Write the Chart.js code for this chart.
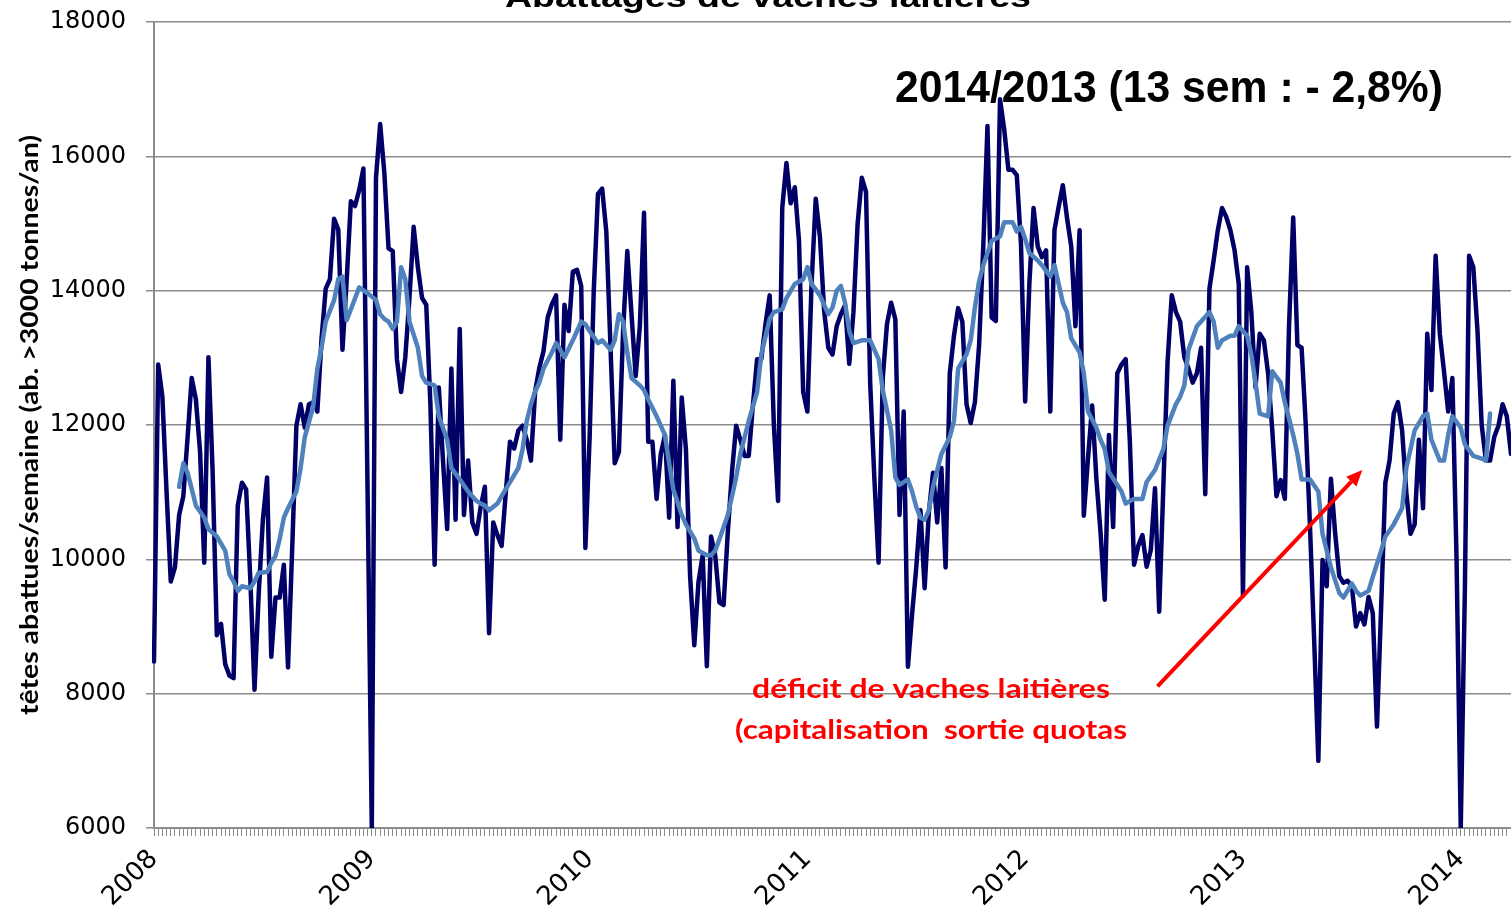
<!DOCTYPE html>
<html lang="fr">
<head>
<meta charset="utf-8">
<title>Abattages de vaches laitières</title>
<script src="https://cdn.jsdelivr.net/npm/chart.js@4.4.1/dist/chart.umd.min.js"></script>
<style>
  html, body { margin: 0; padding: 0; background: #fff; }
  #wrap { width: 1511px; height: 912px; position: relative; }
</style>
</head>
<body>
<div id="wrap"><canvas id="abattagesChart"></canvas></div>
<script>
// Weekly dairy cow slaughter, 2008 -> week 13 of 2014
const weeksPerYear = 52;
const yearTicks = ['2008', '2009', '2010', '2011', '2012', '2013', '2014'];

// heads slaughtered per week, one list per year
const s2008 = [8480, 12900, 12420, 11000, 9670, 9880, 10660, 10940, 11800, 12700, 12380, 11600, 9950,
  13010, 11300, 8870, 9040, 8440, 8270, 8230, 10800, 11140, 11040, 9700, 8060, 9490,
  10590, 11220, 8550, 9430, 9430, 9920, 8390, 10170, 11990, 12310, 11960, 12310, 12340,
  12200, 13280, 14030, 14170, 15070, 14910, 13120, 14150, 15330, 15260, 15500, 15820, 11000];
const s2009 = [6000, 15680, 16480, 15750, 14630, 14590, 12980, 12490, 13010, 13900, 14950, 14350, 13890,
  13790, 12300, 9920, 12560, 11470, 10450, 12840, 10590, 13430, 10660, 11470, 10550, 10380,
  10780, 11080, 8900, 10550, 10360, 10200, 11000, 11750, 11650, 11920, 11990, 11780, 11470,
  12500, 12850, 13100, 13600, 13800, 13930, 11780, 13790, 13400, 14280, 14310, 14070, 10170];
const s2010 = [11800, 14000, 15440, 15520, 14875, 13150, 11430, 11600, 13400, 14590, 13660, 12730, 13470,
  15160, 11750, 11750, 10900, 11570, 11850, 10620, 12660, 10480, 12410, 11640, 9750, 8720,
  9660, 10060, 8410, 10340, 10060, 9360, 9320, 10400, 11300, 11990, 11780, 11540, 11540,
  12300, 12980, 12980, 13500, 13930, 12000, 10870, 15230, 15900, 15300, 15540, 14740, 12490];
const s2011 = [12200, 14100, 15370, 14800, 13700, 13150, 13050, 13470, 13650, 13785, 12910, 13680, 15000,
  15680, 15470, 12620, 11200, 9950, 12700, 13500, 13820, 13575, 10660, 12200, 8400, 9180,
  9880, 10730, 9570, 10700, 11290, 10550, 11360, 9880, 12770, 13330, 13740, 13540, 12310,
  12030, 12340, 13190, 14660, 16450, 13600, 13550, 16850, 16400, 15800, 15800, 15720, 14700];
const s2012 = [12350, 14100, 15230, 14660, 14500, 14600, 12200, 14900, 15250, 15570, 15080, 14660, 13470,
  14900, 10650, 11500, 12290, 11200, 10400, 9400, 11850, 10480, 12770, 12900, 12980, 11750,
  9920, 10200, 10360, 9890, 10140, 11060, 9220, 11100, 12940, 13930, 13680, 13540, 13010,
  12840, 12630, 12770, 13150, 10970, 14030, 14450, 14900, 15230, 15100, 14900, 14600, 14100];
const s2013 = [9460, 14350, 13680, 12560, 13360, 13260, 12770, 11920, 10940, 11180, 10900, 13470, 15090,
  13190, 13150, 12000, 10500, 8800, 7000, 9990, 9600, 11200, 10400, 9750, 9650, 9680,
  9600, 9000, 9200, 9030, 9440, 9200, 7510, 9300, 11140, 11470, 12170, 12340, 11920,
  11000, 10380, 10520, 11780, 10760, 13360, 12520, 14520, 13360, 12800, 12200, 12700, 10000];
const s2014 = [6000, 9600, 14520, 14350, 13400, 12000, 11470, 11470, 11820, 11990, 12310, 12130, 11570];

const weekly = [...s2008, ...s2009, ...s2010, ...s2011, ...s2012, ...s2013, ...s2014];

// moving average (light curve): week index and value
const trendWeeks = [
  6, 7, 8, 9, 10, 12, 13, 15, 17, 18, 19, 20, 21, 23, 24, 25, 27, 28, 29, 30, 31, 32, 34, 35, 36, 38, 39, 40, 41, 43, 44, 45, 46, 47, 49, 51,
  53, 54, 55, 56, 57, 58, 59, 60, 61, 63, 64, 65, 67, 68, 70, 71, 73, 75, 76, 77, 78, 79, 80, 82, 83, 85, 87, 88, 89, 90, 91, 92, 93, 95, 96, 97, 98, 100, 102, 103,
  104, 106, 107, 109, 110, 111, 112, 113, 114, 116, 117, 118, 120, 122, 123, 124, 126, 127, 129, 130, 132, 133, 134, 135, 137, 139, 140, 142, 144, 145, 147, 148, 150, 151, 153, 155,
  156, 157, 159, 161, 162, 163, 164, 165, 166, 167, 169, 171, 173, 174, 176, 177, 178, 180, 181, 182, 183, 184, 185, 186, 188, 190, 191, 192, 194, 195, 196, 197, 198, 200, 202, 203, 205, 206, 207,
  208, 209, 211, 212, 214, 215, 217, 218, 219, 221, 222, 223, 225, 226, 227, 228, 231, 232, 234, 236, 237, 239, 241, 242, 244, 245, 246, 247, 249, 251, 252, 253, 254, 255, 257, 258, 259,
  261, 262, 263, 264, 266, 267, 269, 270, 272, 273, 274, 276, 278, 279, 281, 283, 284, 286, 287, 288, 290, 291, 293, 294, 296, 298, 299, 300, 301, 303, 304, 305, 307, 308, 309, 310,
  312, 313, 315, 317, 318, 319];
const trendValues = [
  11080, 11430, 11290, 11050, 10800, 10620, 10450, 10340, 10130, 9780, 9670, 9530, 9600, 9570, 9670, 9800, 9810, 9950, 10050, 10300, 10620, 10760, 11010, 11360, 11820, 12270, 12840, 13150, 13540, 13860, 14170, 14210, 13560, 13720, 14050, 13960,
  13860, 13650, 13580, 13540, 13430, 13540, 14350, 14170, 13540, 13150, 12730, 12630, 12590, 12130, 11780, 11360, 11190, 11010, 10940, 10870, 10830, 10800, 10730, 10830, 10940, 11150, 11360, 11640, 12060, 12310, 12500, 12630, 12840, 13080, 13220, 13120, 13010, 13260, 13540, 13500,
  13400, 13220, 13260, 13120, 13260, 13650, 13540, 13080, 12700, 12590, 12520, 12380, 12130, 11850, 11430, 11040, 10660, 10520, 10310, 10130, 10060, 10060, 10130, 10300, 10660, 11220, 11570, 12060, 12490, 13050, 13580, 13680, 13720, 13890, 14100, 14170,
  14350, 14100, 13930, 13650, 13750, 14000, 14070, 13820, 13400, 13220, 13260, 13260, 12980, 12520, 11920, 11220, 11110, 11190, 11010, 10780, 10620, 10590, 10730, 11080, 11570, 11820, 12060, 12840, 13050, 13260, 13750, 14140, 14380, 14740, 14810, 15020, 15020, 14880, 14950,
  14770, 14560, 14450, 14380, 14210, 14380, 13820, 13680, 13290, 13080, 12770, 12200, 11960, 11780, 11640, 11300, 11010, 10830, 10900, 10900, 11150, 11330, 11640, 11990, 12310, 12420, 12590, 13120, 13470, 13610, 13680, 13540, 13150, 13260, 13330, 13330, 13470,
  13330, 13050, 12630, 12170, 12130, 12800, 12630, 12340, 11850, 11570, 11190, 11190, 11010, 10380, 9880, 9500, 9430, 9640, 9530, 9460, 9530, 9740, 10130, 10340, 10520, 10760, 11360, 11640, 11920, 12130, 12170, 11780, 11470, 11470, 11850, 12130,
  11960, 11710, 11540, 11500, 11470, 12170];

// red arrow, in (week index, heads) units
const arrowFrom = { week: 239.6, value: 8110 };
const arrowTo = { week: 288.5, value: 11330 };

const weekLabels = weekly.map((_, i) =>
  yearTicks[Math.floor(i / weeksPerYear)] + '-S' + (i % weeksPerYear + 1));
const trend = weekly.map(() => null);
trendWeeks.forEach((w, k) => { trend[w] = trendValues[k]; });

// draws text squeezed/stretched to a given width, centred on cx
function fitText(ctx, text, cx, baseline, width, font, color) {
  ctx.save();
  ctx.font = font;
  const natural = ctx.measureText(text).width;
  ctx.translate(cx, baseline);
  ctx.scale(width / natural, 1);
  ctx.textAlign = 'center';
  ctx.textBaseline = 'alphabetic';
  ctx.fillStyle = color;
  ctx.fillText(text, 0, 0);
  ctx.restore();
}

const overlay = {
  id: 'overlay',
  afterDraw(chart) {
    const ctx = chart.ctx;
    const xs = chart.scales.x, ys = chart.scales.y;

    fitText(ctx, 'Abattages de vaches laitières', 768, 7, 526, 'bold 30px "Liberation Sans"', '#000');
    fitText(ctx, '2014/2013 (13 sem : - 2,8%)', 1169, 102, 548, 'bold 44px "Liberation Sans"', '#000');
    fitText(ctx, 'déficit de vaches laitières', 931, 698, 358, 'bold 27px Lato', '#ff0000');
    fitText(ctx, '(capitalisation  sortie quotas', 931, 739, 392, 'bold 27px Lato', '#ff0000');

    // y axis title
    ctx.save();
    ctx.translate(38, (chart.chartArea.top + chart.chartArea.bottom) / 2);
    ctx.rotate(-Math.PI / 2);
    fitText(ctx, 'têtes abattues/semaine (ab. >3000 tonnes/an)', 0, 0, 580, 'bold 25px Lato', '#000');
    ctx.restore();

    // arrow
    const x1 = xs.getPixelForValue(arrowFrom.week), y1 = ys.getPixelForValue(arrowFrom.value);
    const x2 = xs.getPixelForValue(arrowTo.week), y2 = ys.getPixelForValue(arrowTo.value);
    const a = Math.atan2(y2 - y1, x2 - x1);
    const head = 16, half = 7;
    ctx.save();
    ctx.strokeStyle = '#ff0000';
    ctx.fillStyle = '#ff0000';
    ctx.lineWidth = 4;
    ctx.beginPath();
    ctx.moveTo(x1, y1);
    ctx.lineTo(x2 - Math.cos(a) * head, y2 - Math.sin(a) * head);
    ctx.stroke();
    ctx.beginPath();
    ctx.moveTo(x2, y2);
    ctx.lineTo(x2 - Math.cos(a) * head - Math.sin(a) * half, y2 - Math.sin(a) * head + Math.cos(a) * half);
    ctx.lineTo(x2 - Math.cos(a) * head + Math.sin(a) * half, y2 - Math.sin(a) * head - Math.cos(a) * half);
    ctx.closePath();
    ctx.fill();
    ctx.restore();
  }
};

const ctx = document.getElementById('abattagesChart').getContext('2d');
new Chart(ctx, {
  type: 'line',
  data: {
    labels: weekLabels,
    datasets: [
      {
        label: 'moyenne mobile',
        data: trend,
        borderColor: '#4f81bd',
        borderWidth: 4.5,
        pointRadius: 0,
        spanGaps: true,
        tension: 0,
        borderJoinStyle: 'round',
        borderCapStyle: 'round',
        order: 0
      },
      {
        label: 'têtes abattues/semaine',
        data: weekly,
        borderColor: '#000066',
        borderWidth: 4.5,
        pointRadius: 0,
        tension: 0,
        borderJoinStyle: 'round',
        borderCapStyle: 'round',
        order: 1
      }
    ]
  },
  options: {
    responsive: true,
    maintainAspectRatio: false,
    devicePixelRatio: 1,
    animation: false,
    layout: { padding: { top: 22, right: 0, bottom: 0, left: 0 } },
    plugins: {
      legend: { display: false },
      tooltip: { enabled: false },
      title: { display: false }
    },
    scales: {
      x: {
        type: 'category',
        grid: { drawOnChartArea: false, drawTicks: true, tickLength: 8, color: '#8c8c8c', lineWidth: 1 },
        border: { color: '#8c8c8c', width: 2 },
        ticks: {
          autoSkip: false,
          minRotation: 45,
          maxRotation: 45,
          padding: 8,
          color: '#000',
          font: { family: '"DejaVu Sans"', size: 26 },
          callback: (value, index) => index % weeksPerYear === 0 ? yearTicks[index / weeksPerYear] : ''
        },
        afterFit: s => { s.height = 84; s.paddingLeft = 0; s.paddingRight = 0; }
      },
      y: {
        min: 6000,
        max: 18000,
        grid: { color: '#8c8c8c', lineWidth: 1.5, tickLength: 8 },
        border: { color: '#8c8c8c', width: 2 },
        ticks: {
          stepSize: 2000,
          padding: 20,
          color: '#000',
          font: { family: '"DejaVu Sans"', size: 24 },
          callback: value => String(value)
        },
        afterFit: s => { s.width = 154; s.paddingTop = 0; s.paddingBottom = 0; }
      }
    }
  },
  plugins: [overlay]
});
</script>
</body>
</html>
